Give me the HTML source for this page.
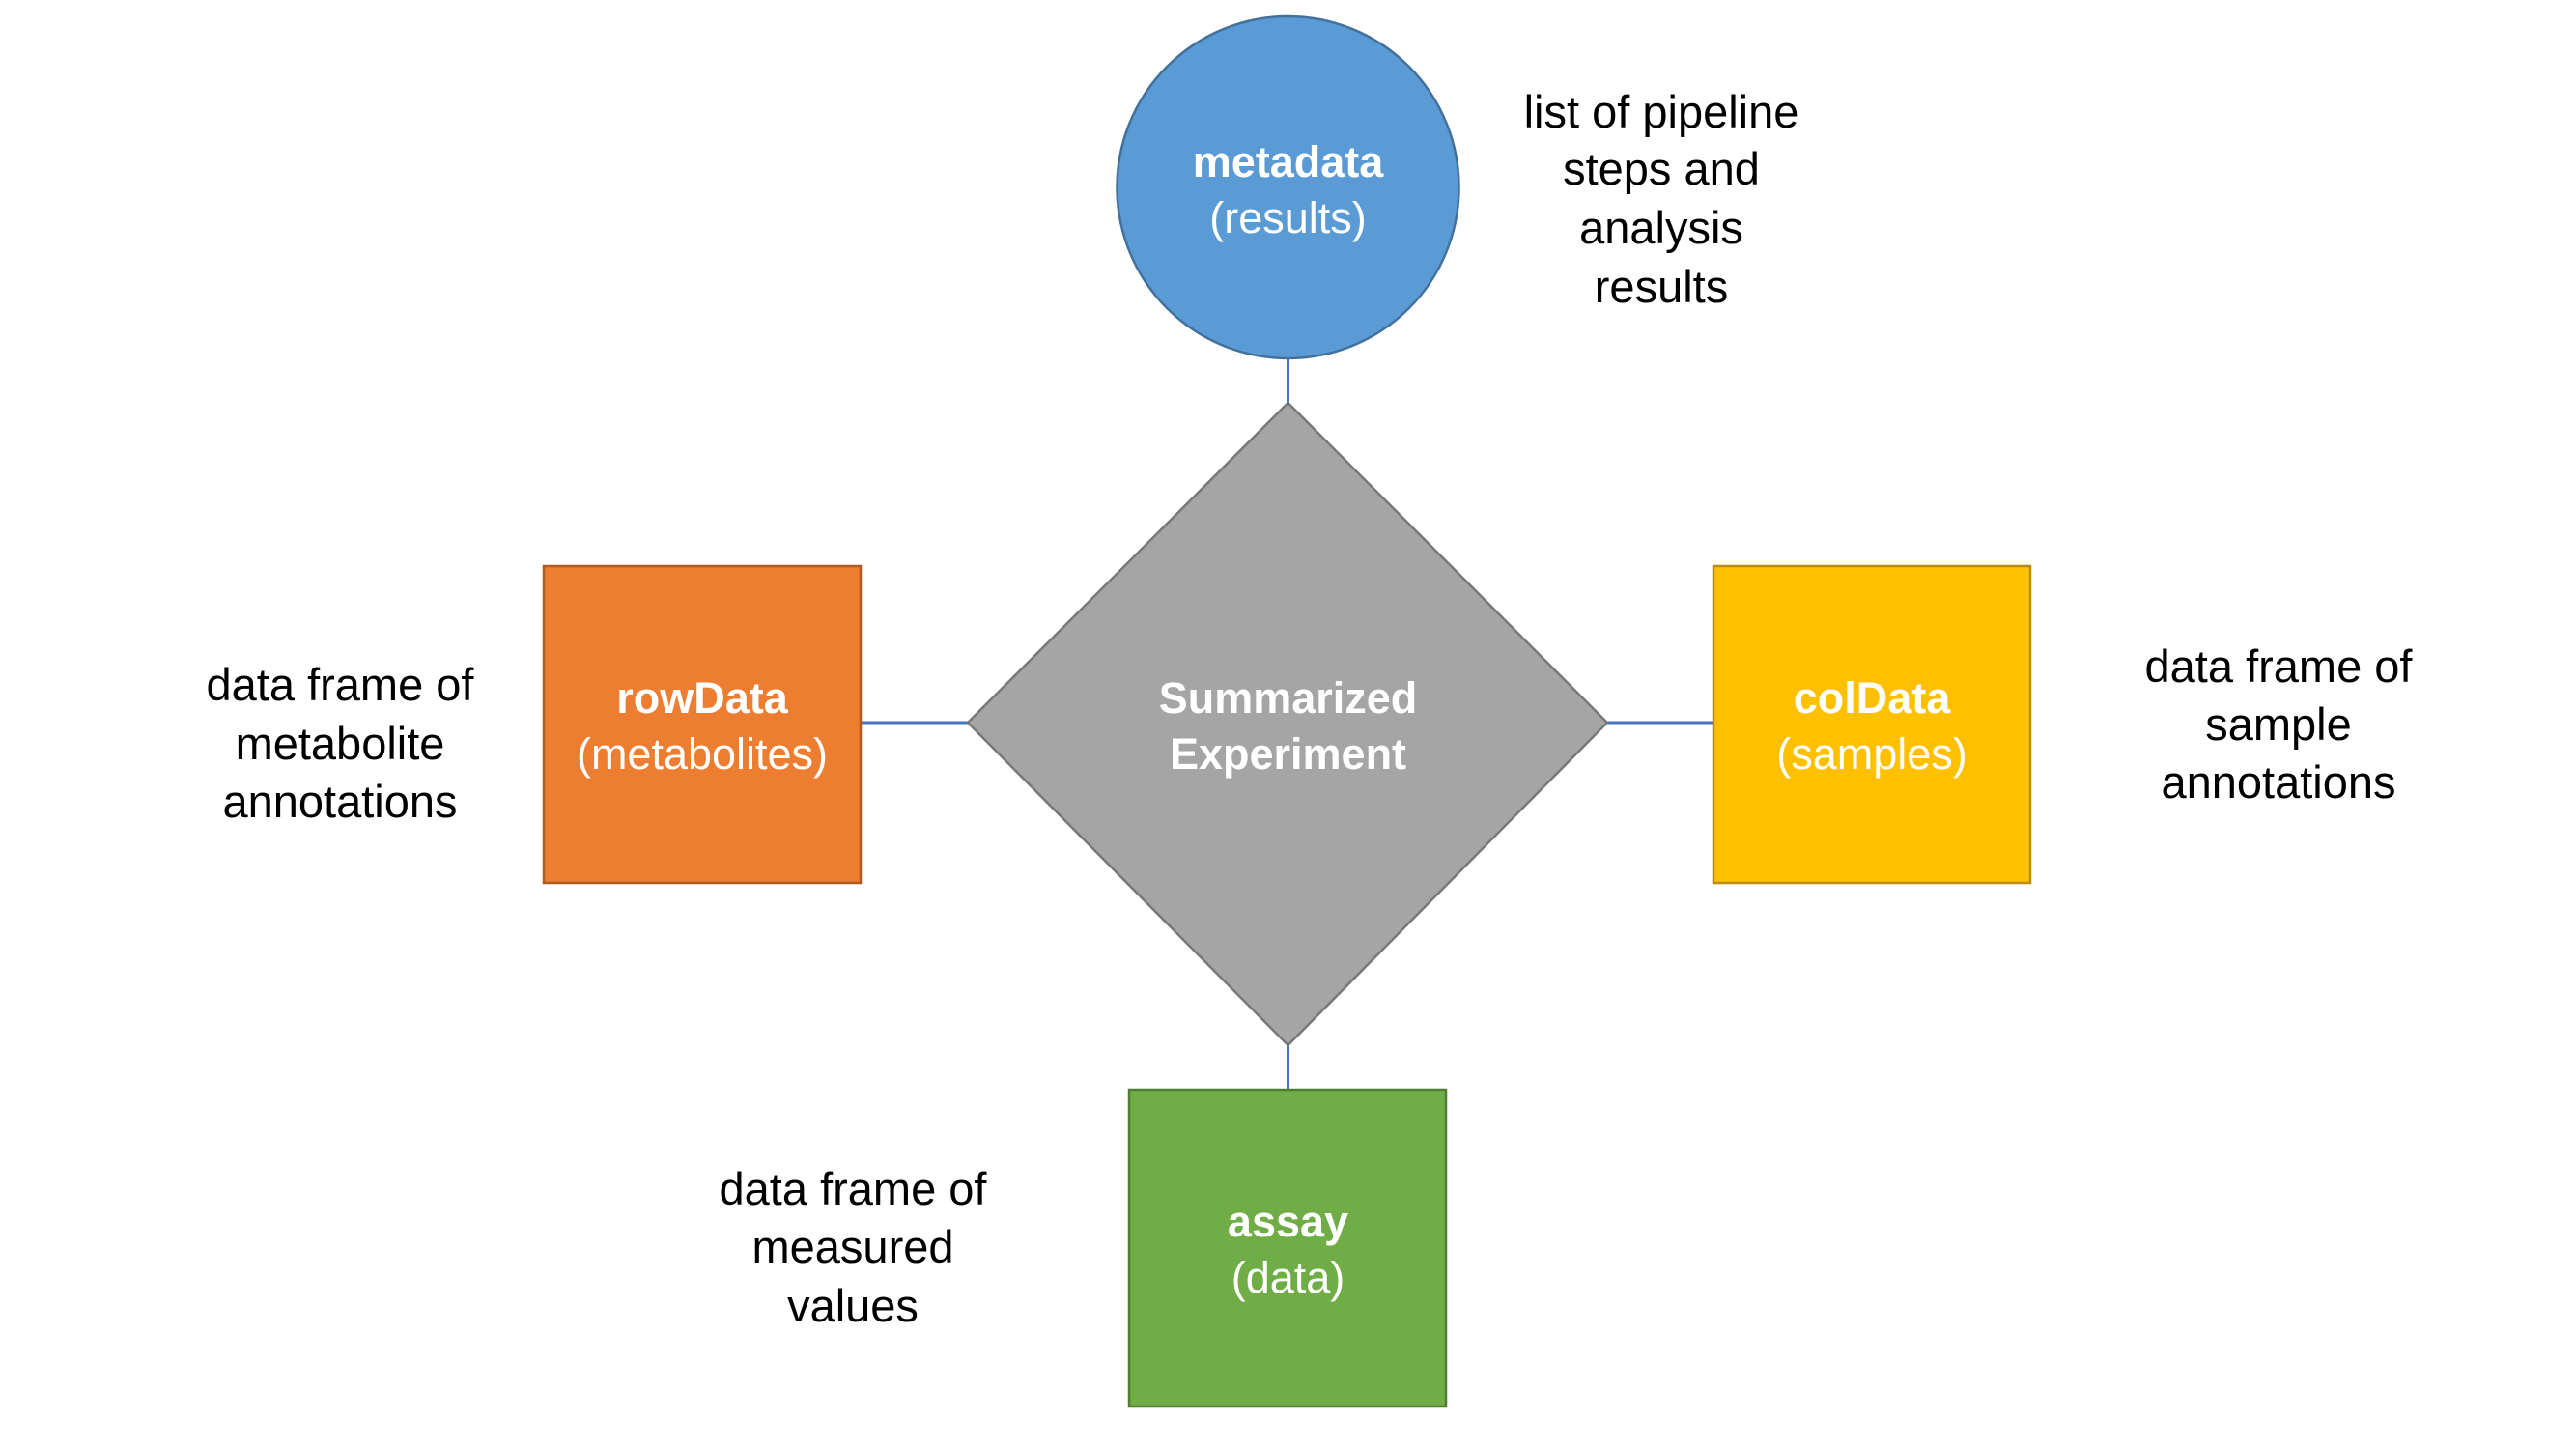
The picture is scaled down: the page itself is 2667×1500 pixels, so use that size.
<!DOCTYPE html>
<html><head><meta charset="utf-8"><style>
html,body{margin:0;padding:0;background:#fff;}
svg{display:block;}
text{font-family:"Liberation Sans",sans-serif;}
</style></head><body>
<svg width="2667" height="1500" viewBox="0 0 2667 1500" xmlns="http://www.w3.org/2000/svg">
<rect width="2667" height="1500" fill="#fff"/>
<g stroke="#4472C4" stroke-width="3">
<line x1="1333.5" y1="371" x2="1333.5" y2="417"/>
<line x1="891" y1="748" x2="1002" y2="748"/>
<line x1="1664" y1="748" x2="1774" y2="748"/>
<line x1="1333.5" y1="1082" x2="1333.5" y2="1128"/>
</g>
<circle cx="1333.5" cy="194" r="177" fill="#5B9BD5" stroke="#41719C" stroke-width="2.5"/>
<polygon points="1333.5,417 1664,748 1333.5,1082 1002,748" fill="#A5A5A5" stroke="#787878" stroke-width="2.5"/>
<rect x="563" y="586" width="328" height="328" fill="#ED7D31" stroke="#AE5A21" stroke-width="2.5"/>
<rect x="1774" y="586" width="328" height="328" fill="#FFC000" stroke="#BC8C00" stroke-width="2.5"/>
<rect x="1169" y="1128" width="328" height="328" fill="#70AD47" stroke="#507E32" stroke-width="2.5"/>
<g fill="#fff" font-size="45" text-anchor="middle">
<text x="1333.5" y="183" font-weight="bold">metadata</text>
<text x="1333.5" y="241">(results)</text>
<text x="1333.5" y="738" font-weight="bold">Summarized</text>
<text x="1333.5" y="796" font-weight="bold">Experiment</text>
<text x="727" y="738" font-weight="bold">rowData</text>
<text x="727" y="796">(metabolites)</text>
<text x="1938" y="738" font-weight="bold">colData</text>
<text x="1938" y="796">(samples)</text>
<text x="1333.5" y="1280" font-weight="bold">assay</text>
<text x="1333.5" y="1338">(data)</text>
</g>
<g fill="#000" font-size="47" text-anchor="middle">
<text x="1720" y="132">list of pipeline</text>
<text x="1720" y="191">steps and</text>
<text x="1720" y="252">analysis</text>
<text x="1720" y="313">results</text>
<text x="352" y="725">data frame of</text>
<text x="352" y="786">metabolite</text>
<text x="352" y="846">annotations</text>
<text x="2359" y="706">data frame of</text>
<text x="2359" y="766">sample</text>
<text x="2359" y="826">annotations</text>
<text x="883" y="1247">data frame of</text>
<text x="883" y="1307">measured</text>
<text x="883" y="1368">values</text>
</g>
</svg>
</body></html>
